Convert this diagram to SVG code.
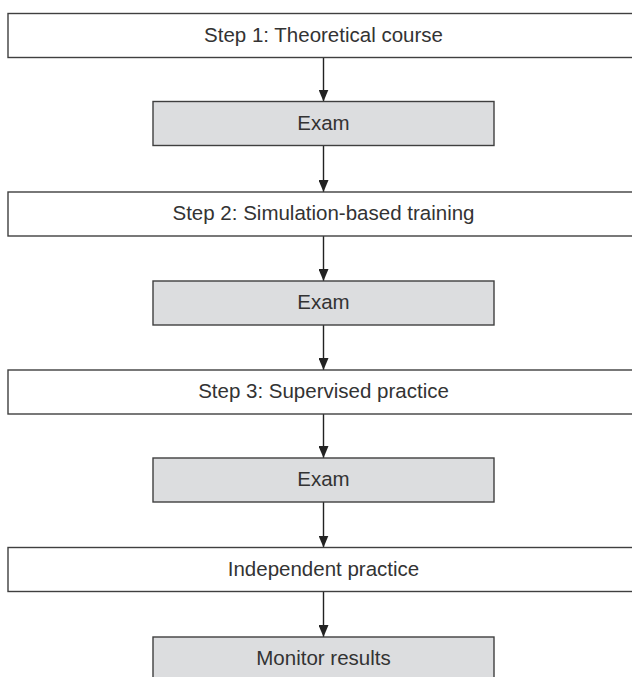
<svg xmlns="http://www.w3.org/2000/svg" width="632" height="677" viewBox="0 0 632 677">
<defs>
<style>
.box{fill:#ffffff;stroke:#3f3f3f;stroke-width:1.4}
.gbox{fill:#dcdddf;stroke:#3f3f3f;stroke-width:1.4}
.t{font-family:"Liberation Sans",Arial,sans-serif;font-size:20.5px;fill:#333333;text-anchor:middle}
.c{stroke:#222222;stroke-width:1.4;fill:none}
</style>
<marker id="ah" markerWidth="12" markerHeight="10" refX="12" refY="5" orient="auto" markerUnits="userSpaceOnUse" viewBox="0 0 12 10">
<path d="M0,0 L12,5 L0,10 Z" fill="#222222"/>
</marker>
</defs>
<rect x="0" y="0" width="632" height="677" fill="#ffffff"/>
<g id="connectors">
<line class="c" x1="323.5" y1="57.5" x2="323.5" y2="101.5" marker-end="url(#ah)"/>
<line class="c" x1="323.5" y1="145.5" x2="323.5" y2="192" marker-end="url(#ah)"/>
<line class="c" x1="323.5" y1="236" x2="323.5" y2="281" marker-end="url(#ah)"/>
<line class="c" x1="323.5" y1="325" x2="323.5" y2="370" marker-end="url(#ah)"/>
<line class="c" x1="323.5" y1="414" x2="323.5" y2="458" marker-end="url(#ah)"/>
<line class="c" x1="323.5" y1="502" x2="323.5" y2="547.5" marker-end="url(#ah)"/>
<line class="c" x1="323.5" y1="591.5" x2="323.5" y2="637" marker-end="url(#ah)"/>
</g>
<g id="step1">
<rect class="box" x="8" y="13.5" width="640" height="44"/>
<text class="t" x="323.5" y="41.5">Step 1: Theoretical course</text>
</g>
<g id="exam1">
<rect class="gbox" x="153" y="101.5" width="341" height="44"/>
<text class="t" x="323.5" y="129.5">Exam</text>
</g>
<g id="step2">
<rect class="box" x="8" y="192" width="640" height="44"/>
<text class="t" x="323.5" y="220">Step 2: Simulation-based training</text>
</g>
<g id="exam2">
<rect class="gbox" x="153" y="281" width="341" height="44"/>
<text class="t" x="323.5" y="309">Exam</text>
</g>
<g id="step3">
<rect class="box" x="8" y="370" width="640" height="44"/>
<text class="t" x="323.5" y="398">Step 3: Supervised practice</text>
</g>
<g id="exam3">
<rect class="gbox" x="153" y="458" width="341" height="44"/>
<text class="t" x="323.5" y="486">Exam</text>
</g>
<g id="independent">
<rect class="box" x="8" y="547.5" width="640" height="44"/>
<text class="t" x="323.5" y="575.5">Independent practice</text>
</g>
<g id="monitor">
<rect class="gbox" x="153" y="637" width="341" height="44"/>
<text class="t" x="323.5" y="665">Monitor results</text>
</g>
</svg>
